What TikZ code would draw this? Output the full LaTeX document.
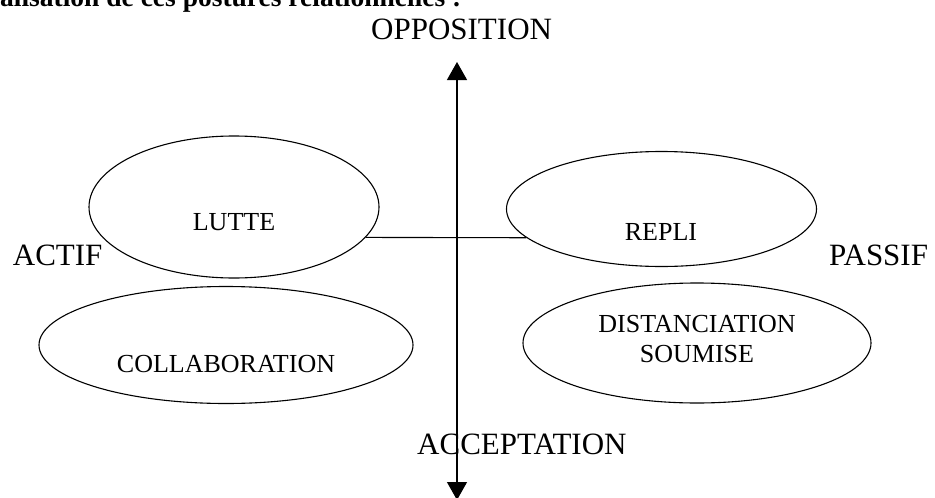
\documentclass[tikz,border=0pt]{standalone}
\usepackage{fontspec}
\setmainfont{Liberation Serif}
\usetikzlibrary{shapes.geometric,arrows.meta}
\tikzset{
  oval/.style={draw, ellipse, line width=1.1pt, inner sep=0pt},
  biglabel/.style={font=\fontsize{31}{33}\selectfont, inner sep=0pt, anchor=base west},
  inlabel/.style={font=\fontsize{26}{30}\selectfont, inner sep=0pt, align=center},
  axis/.style={line width=1.3pt, {Triangle[width=20pt,length=18pt]}-{Triangle[width=20pt,length=18pt]}},
  link/.style={line width=1.1pt}
}
\begin{document}
\begin{tikzpicture}[x=1pt,y=-1pt]
\useasboundingbox (0,0) rectangle (935,498);
% title (clipped at top, as in the reference)
\node[font=\fontsize{27.5}{29}\selectfont\bfseries, inner sep=0pt, anchor=base west] (title) at (0,6) {alisation de ces postures relationnelles :};
% ellipses
\node[oval, minimum width=290pt, minimum height=142pt] (lutte) at (234,207) {};
\node[oval, minimum width=310pt, minimum height=115pt] (repli) at (661.5,209) {};
\node[oval, minimum width=374pt, minimum height=117pt] (collab) at (226,345) {};
\node[oval, minimum width=348pt, minimum height=120pt] (dist) at (697,343) {};
% inner labels
\node[inlabel, anchor=base] (tlutte) at (234,230) {LUTTE};
\node[inlabel, anchor=base] (trepli) at (661,240) {REPLI};
\node[inlabel, anchor=base] (tcollab) at (226,372) {COLLABORATION};
\node[inlabel, anchor=center] (tdist) at (697,339.4) {DISTANCIATION\\SOUMISE};
% axis labels
\node[biglabel] (opp) at (371,39) {OPPOSITION};
\node[biglabel] (acc) at (417,454) {ACCEPTATION};
\node[biglabel] (actif) at (12.7,265) {ACTIF};
\node[biglabel] (passif) at (829,265) {PASSIF};
% axes
\coordinate (atop) at (457,62);
\coordinate (abot) at (457,500);
\draw[axis] (atop) -- (abot);
\draw[link] (lutte.-13.4) -- (repli.192.2);
\end{tikzpicture}
\end{document}
